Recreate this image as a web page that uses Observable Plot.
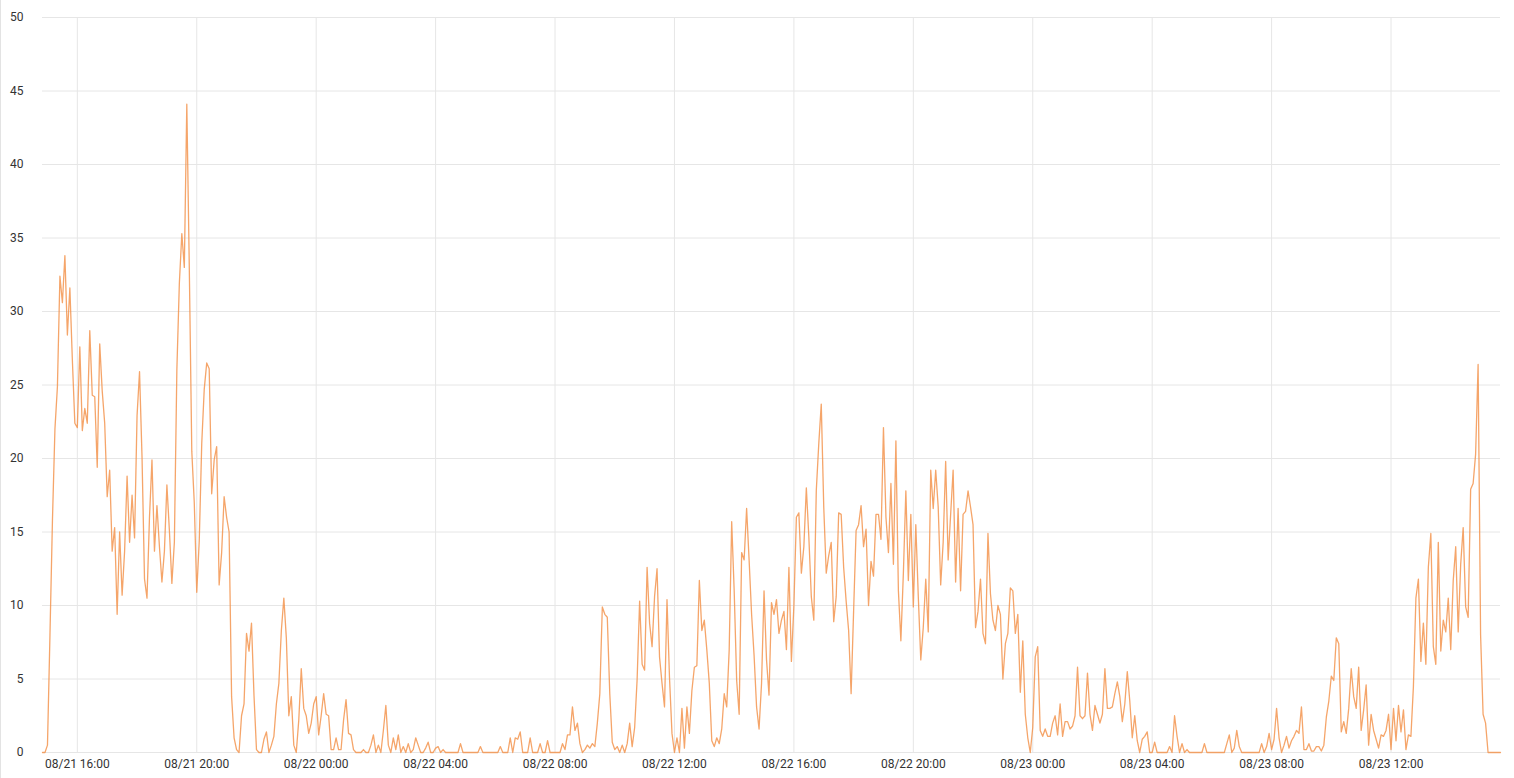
<!DOCTYPE html>
<html>
<head>
<meta charset="utf-8">
<script src="https://cdn.jsdelivr.net/npm/d3@7"></script>
<script src="https://cdn.jsdelivr.net/npm/@observablehq/plot@0.6"></script>
<style>
html, body { margin: 0; padding: 0; background: #fff; overflow: hidden; }
#chart { position: relative; width: 1514px; height: 778px; }
#chart::before { content: ""; position: absolute; left: 0; top: 0; bottom: 0; width: 1px; background: #e3e3e3; }
#chart svg { display: block; }
</style>
</head>
<body>
<div id="chart"></div>
<script>
// ---- data ----
const startTime = "2023-08-21T14:50:00Z";
const endTime = "2023-08-23T15:40:00Z";
const stepMinutes = 5;
const yTicks = [0, 5, 10, 15, 20, 25, 30, 35, 40, 45, 50];
const xTickFormat = "%m/%d %H:%M";
const lineColor = "#f28e45";

const values = [
  0,0,0.5,8,15.8,22,24.9,32.4,30.6,33.8,
  28.4,31.6,26.7,22.4,22.1,27.6,21.9,23.4,22.4,28.7,
  24.3,24.2,19.4,27.8,24.6,22.4,17.4,19.2,13.7,15.3,
  9.4,15.0,10.7,13.7,18.8,14.3,17.5,14.6,22.9,25.9,
  20.1,11.8,10.5,16.0,19.9,13.7,16.8,14.0,11.6,13.7,
  18.2,15.1,11.5,14.3,26,31.9,35.3,33,44.1,33,
  20.5,17,10.9,14.4,21,24.7,26.5,26.1,17.6,19.9,
  20.8,11.4,13.6,17.4,16.0,15,3.8,1.0,0.2,0,
  2.5,3.3,8.1,6.9,8.8,3.9,0.2,0,0,0.9,
  1.4,0,0.5,1.1,3.3,4.7,8.3,10.5,7.8,2.5,
  3.8,0.5,0,2.2,5.7,3.0,2.5,1.3,2.0,3.3,
  3.8,1.2,2.5,4.0,2.6,2.5,0.2,0.2,1.0,0.2,
  0.2,2.2,3.6,1.3,1.2,0.2,0,0,0,0.2,
  0,0,0.5,1.2,0,0.5,0,1.5,3.2,0.5,
  0,1.0,0.2,1.2,0,0.4,0,0.6,0,0.2,
  1.0,0.5,0,0,0.3,0.7,0,0,0.3,0.4,
  0,0.2,0,0,0,0,0,0,0.6,0,
  0,0,0,0,0,0,0.4,0,0,0,
  0,0,0,0,0.4,0,0,0,1.0,0,
  1.0,0.9,1.4,0,0,0,1.0,0,0,0,
  0.6,0,0,0.8,0,0,0,0,0,0.6,
  0.2,1.2,1.2,3.1,1.5,2.0,0.6,0,0.2,0.5,
  0.3,0.6,0.4,2.0,4.0,9.9,9.4,9.2,4.0,0.7,
  0.2,0.4,0,0.5,0,0.6,2.0,0.4,1.7,5,
  10.3,6.0,5.6,12.6,8.8,7.2,10.6,12.5,6.5,4.7,
  3.1,10.4,5.1,1.3,0,1.0,0,3.0,0.3,3.1,
  1.3,4.2,5.8,5.9,11.7,8.3,9.0,7.0,4.7,0.8,
  0.4,1.0,0.6,1.6,4.0,3.1,7,15.7,11,4.9,
  2.6,13.6,13.1,16.6,13.1,9.4,6.6,3.1,1.6,4.7,
  11.0,6.3,3.9,10.2,9.4,10.4,8.1,9.0,9.6,7.0,
  12.6,6.2,10,16.0,16.3,12.2,14.0,18.0,14.7,10.6,
  9.0,17.8,21,23.7,16.7,12.2,13.4,14.3,8.9,10.6,
  16.3,16.2,12.6,10.3,8.3,4.0,9.6,15.1,15.5,16.8,
  14.0,15.2,10,13.0,12.0,16.2,16.2,14.5,22.1,16.0,
  13.6,18.3,12.8,21.2,11.0,7.6,12.2,17.8,11.7,16.2,
  9.9,15.5,10.6,6.3,8.5,11.8,8.2,19.2,16.6,19.2,
  16.7,11.4,14.3,19.8,13.1,16.2,19.2,11.6,16.6,11.0,
  16.2,16.4,17.8,16.7,15.5,8.5,9.6,11.8,8.1,7.4,
  14.9,10.8,9.0,8.3,10.0,9.4,5.0,7.4,8.1,11.2,
  11,8.1,9.4,4.1,7.6,2.6,1.0,0,1.7,6.5,
  7.2,1.5,1.1,1.6,1.1,1.1,2.0,2.5,1.2,3.3,
  1.1,2.1,2.1,1.6,1.8,2.5,5.8,2.5,2.3,2.5,
  5.4,2.6,1.5,3.2,2.6,2.0,2.6,5.7,3.0,3.0,
  3.1,4.0,4.8,3.8,2.1,3.3,5.5,3.5,1.0,2.5,
  0.8,0,0.9,1.1,1.4,0,0,0.7,0,0,
  0,0,0,0.4,0,2.5,1.1,0,0.6,0,
  0.2,0,0,0,0,0,0,0.6,0,0,
  0,0,0,0,0,0,0.6,1.2,0,0.3,
  1.5,0.4,0,0,0,0,0,0,0,0,
  0.6,0,0.4,1.3,0.2,0.9,3.0,1.0,0,0.5,
  1.1,0.3,0.8,1.1,1.5,1.3,3.1,0.2,0.2,0.6,
  0.1,0.1,0.4,0.4,0.1,0.5,2.4,3.5,5.2,4.9,
  7.8,7.4,1.4,2.1,1.3,3.0,5.7,3.8,3.0,5.8,
  1.5,2.9,4.6,0.5,2.6,1.5,0.9,0.3,1.2,1.1,
  1.5,2.6,0.2,3.0,0.8,3.2,1.4,2.9,0.2,1.2,
  1.1,4.5,10.5,11.8,6.2,8.8,6.0,12.6,14.9,7.2,
  6.0,14.3,6.9,9.0,8.2,10.5,7.0,11.7,14.0,8.2,
  12.8,15.3,9.9,9.2,17.9,18.3,20.3,26.4,8,2.6,
  2.0,0,0,0,0,0,0
];

// ---- build ----
const t0 = new Date(startTime);
const t1 = new Date(endTime);
const data = values.map((v, i) => ({ time: new Date(t0.getTime() + i * stepMinutes * 60000), value: v }));
const xTicks = d3.utcHour.every(4).range(t0, t1);

const chart = Plot.plot({
  width: 1514,
  height: 778,
  marginLeft: 42,
  marginRight: 14,
  marginTop: 17,
  marginBottom: 26,
  style: { fontFamily: "Roboto, 'Liberation Sans', sans-serif", fontSize: "12px", color: "#333", background: "#fff" },
  x: { type: "utc", domain: [t0, t1], label: null },
  y: { domain: [0, 50], label: null },
  marks: [
    Plot.gridY(yTicks, { stroke: "#e6e6e6", strokeOpacity: 1, strokeWidth: 1 }),
    Plot.gridX(xTicks, { stroke: "#e6e6e6", strokeOpacity: 1, strokeWidth: 1 }),
    Plot.axisY(yTicks, { tickSize: 0, tickPadding: 19, fontSize: 12, fill: "#333", label: null }),
    Plot.axisX(xTicks, { tickSize: 0, tickPadding: 7, fontSize: 12, fill: "#333", label: null, tickFormat: d3.utcFormat(xTickFormat) }),
    Plot.line(data, { x: "time", y: "value", stroke: lineColor, strokeWidth: 1.3, strokeOpacity: 0.8 })
  ]
});
document.getElementById("chart").appendChild(chart);
</script>
</body>
</html>
